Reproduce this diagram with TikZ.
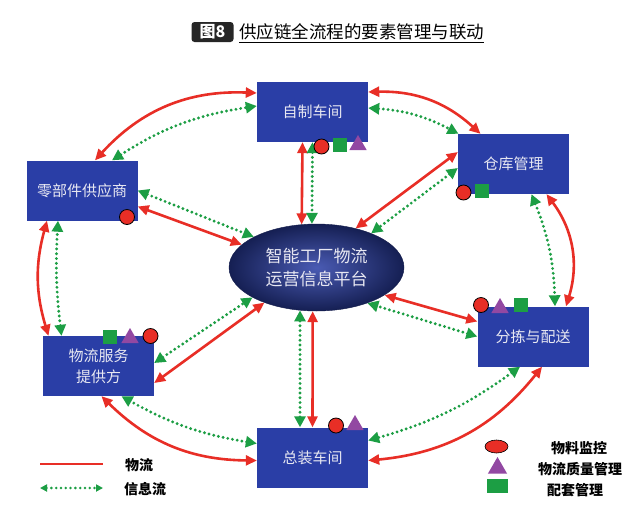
\documentclass[tikz,border=0pt]{standalone}
\usepackage{fontspec}
\setmainfont{Noto Sans CJK SC}
\usetikzlibrary{arrows.meta,shapes.geometric}
\definecolor{boxblue}{RGB}{42,62,166}
\definecolor{boxtext}{RGB}{232,232,242}
\definecolor{flowred}{RGB}{232,46,38}
\definecolor{infogreen}{RGB}{28,158,68}
\definecolor{qpurple}{RGB}{146,72,162}
\begin{document}
\begin{tikzpicture}[x=1pt,y=-1pt,
  unit/.style={fill=boxblue,text=boxtext,minimum width=111pt,minimum height=60pt,
    inner sep=0pt,align=center,font=\fontsize{15}{21}\selectfont},
  matflow/.style={draw=flowred,line width=2.6pt,<->,>={Triangle[length=11pt,width=10pt]}},
  infoflow/.style={draw=infogreen,line width=3.2pt,line cap=round,dash pattern=on 0pt off 4.8pt,
    <->,>={Triangle[length=11pt,width=11pt]}},
  mon/.style={circle,draw=black,line width=0.8pt,fill=flowred,minimum size=15pt,inner sep=0pt},
  qual/.style={regular polygon,regular polygon sides=3,fill=qpurple,minimum size=20pt,inner sep=0pt},
  kit/.style={fill=infogreen,minimum size=14pt,inner sep=0pt},
  legend/.style={font=\bfseries\fontsize{14}{16}\selectfont}]
\useasboundingbox[fill=white] (0,0) rectangle (642,515);

% title
\node[fill=black!85,rounded corners=3pt,text=white,font=\bfseries\fontsize{16}{18}\selectfont,
  minimum width=42pt,minimum height=20pt,inner sep=0pt] (fignum) at (212.5,32) {图8};
\node[anchor=west,inner sep=0pt,font=\fontsize{17.5}{20}\selectfont] (title) at (239,32) {供应链全流程的要素管理与联动};
\draw[line width=0.8pt] ([yshift=-2pt]title.south west) -- ([yshift=-2pt]title.south east);

% units
\node[unit] (zizhi) at (312.5,112) {自制车间};
\node[unit] (lingbu) at (82,190.5) {零部件供应商};
\node[unit] (cangku) at (513.5,164) {仓库管理};
\node[unit] (fenjian) at (533,336.5) {分拣与配送};
\node[unit] (wuliu) at (98.5,366) {物流服务\\提供方};
\node[unit] (zongzh) at (312.5,457.5) {总装车间};
\node[ellipse,minimum width=175pt,minimum height=87pt,inner sep=0pt,
  inner color=boxblue!85!white,outer color=boxblue!50!black,draw=boxblue!45!black,
  text=boxtext,align=center,font=\fontsize{17}{23}\selectfont] (pingtai) at (316.5,267.5)
  {智能工厂物流\\运营信息平台};

% outer ring
\draw[matflow] ([xshift=13pt]lingbu.north) to[bend left=25] ([yshift=19pt]zizhi.west);
\draw[infoflow] ([xshift=30pt]lingbu.north) to[bend left=12] ([yshift=6pt]zizhi.west);
\draw[matflow] ([yshift=20pt]zizhi.east) to[bend left=22] ([xshift=-33pt]cangku.north);
\draw[infoflow] ([yshift=4pt]zizhi.east) to[bend left=12] ([xshift=-55pt]cangku.north);
\draw[matflow] ([xshift=33pt]cangku.south) to[bend left=27] ([xshift=33pt]fenjian.north);
\draw[infoflow] ([xshift=18pt]cangku.south) to[bend left=10] ([xshift=22pt]fenjian.north);
\draw[matflow] ([xshift=9pt]fenjian.south) to[bend left=23] ([yshift=-3pt]zongzh.east);
\draw[infoflow] ([xshift=-13pt]fenjian.south) to[bend left=10] ([yshift=17pt]zongzh.east);
\draw[matflow] ([yshift=-3pt]zongzh.west) to[bend left=22] ([xshift=3pt]wuliu.south);
\draw[infoflow] ([yshift=14pt]zongzh.west) to[bend left=10] ([xshift=23pt]wuliu.south);
\draw[matflow] ([xshift=-50pt]wuliu.north) to[bend left=16] ([xshift=-35pt]lingbu.south);
\draw[infoflow] ([xshift=-37pt]wuliu.north) to[bend left=5] ([xshift=-24pt]lingbu.south);

% spokes to the platform
\draw[matflow] ([xshift=-10pt]zizhi.south) -- (pingtai.109);
\draw[infoflow] (zizhi.south) -- (pingtai.96);
\draw[matflow] ([yshift=-16pt]lingbu.east) -- (pingtai.163);
\draw[infoflow] (lingbu.east) -- (pingtai.154);
\draw[matflow] ([yshift=12pt]cangku.west) -- (pingtai.45);
\draw[infoflow] ([yshift=-4pt]cangku.west) -- (pingtai.32);
\draw[matflow] ([yshift=15pt]fenjian.west) -- (pingtai.-22);
\draw[infoflow] (fenjian.west) -- (pingtai.-35);
\draw[matflow] ([yshift=-17pt]wuliu.east) -- (pingtai.214);
\draw[infoflow] ([yshift=3pt]wuliu.east) -- (pingtai.205);
\draw[matflow] (zongzh.north) -- (pingtai.265);
\draw[infoflow] ([xshift=-12.5pt]zongzh.north) -- (pingtai.249);

% markers
\node[mon] (zzmon) at (321.5,146.5) {};
\node[kit] (zzkit) at (340,145) {};
\node[qual] (zzqual) at (358,145) {};
\node[mon] (lbmon) at (127,217) {};
\node[mon] (ckmon) at (463.5,192.5) {};
\node[kit] (ckkit) at (482,191) {};
\node[mon] (fjmon) at (481,305) {};
\node[qual] (fjqual) at (500,308) {};
\node[kit] (fjkit) at (521,304.5) {};
\node[kit] (wlkit) at (109.5,336.5) {};
\node[qual] (wlqual) at (130,338) {};
\node[mon] (wlmon) at (150.5,336) {};
\node[mon] (zgmon) at (336,425.5) {};
\node[qual] (zgqual) at (355,425) {};

% legend
\coordinate (lma) at (40,464);
\coordinate (lmb) at (103,464);
\draw[draw=flowred,line width=2.6pt] (lma) -- (lmb);
\node[legend] (lmat) at (139,465) {物流};
\coordinate (lia) at (40,488);
\coordinate (lib) at (103,488);
\draw[infoflow,line width=2.8pt,>={Triangle[length=7pt,width=7pt]}] (lia) -- (lib);
\node[legend] (linfo) at (145,489) {信息流};
\node[ellipse,draw=black,line width=0.6pt,fill=flowred,minimum width=23pt,minimum height=13pt,inner sep=0pt] (lgmon) at (496.5,446.5) {};
\node[qual,minimum size=22pt] (lgqual) at (497.5,468) {};
\node[kit,minimum width=21pt] (lgkit) at (497.5,486) {};
\node[legend] (tmon) at (579,448) {物料监控};
\node[legend] (tqual) at (580,469) {物流质量管理};
\node[legend] (tkit) at (575,490) {配套管理};
\end{tikzpicture}
\end{document}
